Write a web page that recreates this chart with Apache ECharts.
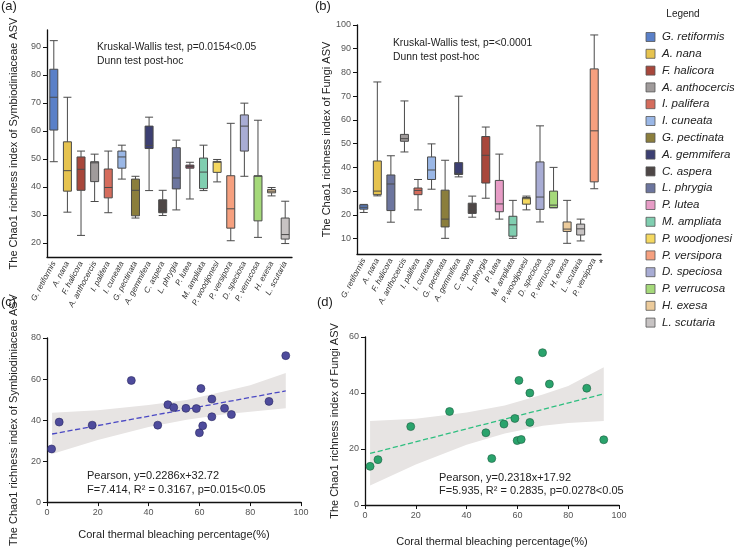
<!DOCTYPE html>
<html lang="en">
<head>
    <meta charset="UTF-8">
    <title>Chao1 richness</title>
    <script src="https://cdn.jsdelivr.net/npm/echarts@6/dist/echarts.min.js"></script>
    <style type="text/css">
        html, body {
            margin: 0;
            padding: 0;
            background: #fff;
        }
        #main {
            width: 734px;
            height: 548px;
        }
    </style>
</head>
<body>
<div id="main"></div>
<script type="text/javascript">
    // species order used in panel (a) and in the legend
    var speciesA = ['G. retiformis', 'A. nana', 'F. halicora', 'A. anthocercis', 'I. palifera', 'I. cuneata',
        'G. pectinata', 'A. gemmifera', 'C. aspera', 'L. phrygia', 'P. lutea', 'M. ampliata',
        'P. woodjonesi', 'P. versipora', 'D. speciosa', 'P. verrucosa', 'H. exesa', 'L. scutaria'];
    var legendColors = ['#5a80c8', '#e6c34f', '#a8473b', '#a09b9b', '#d56c5c', '#9ab7e6',
        '#8b7e3c', '#3c3f72', '#4e4746', '#6c759e', '#e79cc6', '#80ceb0',
        '#f4d860', '#f6a07f', '#a8acd4', '#a5d97a', '#eccb9b', '#c7c3c3'];

    // (a) Symbiodiniaceae, five-number summaries
    var aMin = [49, 31, 22.7, 34.8, 30.8, 42.8, 28.9, 38.7, 29.8, 31.8, 35.7, 38.7, 41.8, 20.8, 43.8, 22, 36.8, 19.8];
    var aQ1 = [60.3, 38.5, 38.8, 41.9, 36.1, 46.7, 29.7, 53.7, 30.8, 39.3, 46.7, 39.4, 45.2, 25.3, 52.8, 27.9, 37.9, 21.4];
    var aMed = [72, 45.8, 46.3, 48.6, 39.8, 50.7, 38.8, 54.8, 32, 43.2, 47.3, 45.3, 48.8, 32.2, 61.7, 43.8, 38.5, 23];
    var aQ3 = [82, 56.1, 50.7, 49, 46.4, 52.8, 42.8, 61.7, 35.4, 54, 47.8, 50.3, 49.1, 44, 65.7, 44, 39.1, 28.9];
    var aMax = [92.2, 72, 52.8, 51.7, 52.8, 54.9, 43.8, 64.9, 38.8, 56.7, 48.8, 54.9, 49.8, 62.7, 69.9, 63.8, 39.8, 34.9];
    var aColors = ['#5a80c8', '#e6c34f', '#a8473b', '#a09b9b', '#d56c5c', '#9ab7e6',
        '#8b7e3c', '#3c3f72', '#4e4746', '#6c759e', '#8d4b5e', '#80ceb0',
        '#f4d860', '#f6a07f', '#a8acd4', '#a5d97a', '#eccb9b', '#c7c3c3'];

    // (b) Fungi
    var speciesB = ['G. retiformis', 'A. nana', 'F. halicora', 'A. anthocercis', 'I. palifera', 'I. cuneata',
        'G. pectinata', 'A. gemmifera', 'C. aspera', 'L. phrygia', 'P. lutea', 'M. ampliata',
        'P. woodjonesi', 'D. speciosa', 'P. verrucosa', 'H. exesa', 'L. scutaria', 'P. versipora'];
    var bMin = [21, 28, 16.9, 46.5, 22.1, 30.8, 10.1, 36, 19, 27, 18.2, 10.1, 22.1, 17, 23, 8, 9, 31];
    var bQ1 = [22.4, 28.5, 21.8, 51, 28.5, 34.9, 14.9, 37, 20.6, 33.4, 21.3, 11, 24.5, 22.3, 23, 13, 11.5, 33.9];
    var bMed = [23.2, 30, 33, 52.1, 30.3, 38.9, 18.2, 37.5, 22.1, 45.1, 24.6, 15.8, 26.8, 27.5, 24.1, 14, 14.1, 55.4];
    var bQ3 = [24.2, 42.7, 36.8, 53.9, 31.3, 44.4, 30.4, 42, 24.9, 53, 34.5, 19.4, 27.3, 42.3, 30, 17, 16.1, 81.5];
    var bMax = [24.4, 76, 44.9, 68, 34.9, 49.9, 43, 70, 27.9, 57, 45.6, 26.1, 27.9, 57.5, 40, 26.1, 18.2, 95.8];
    var bColors = ['#5a80c8', '#e6c34f', '#6c759e', '#a09b9b', '#d56c5c', '#9ab7e6',
        '#8b7e3c', '#3c3f72', '#4e4746', '#a8473b', '#e79cc6', '#80ceb0',
        '#f4d860', '#a8acd4', '#a5d97a', '#eccb9b', '#c7c3c3', '#f6a07f'];

    // (c) bleaching vs Symbiodiniaceae richness
    var cX = [1.8, 4.8, 17.8, 33.2, 43.6, 47.6, 49.9, 54.7, 58.8, 60, 60.6, 61.3, 64.9, 64.9, 69.9, 72.6, 87.4, 94];
    var cY = [25.9, 39, 37.5, 59.3, 37.5, 47.5, 46.1, 45.7, 45.6, 33.8, 55.4, 37.2, 50.2, 41.6, 45.7, 42.7, 49.1, 71.4];
    var cFitX = [2, 94];
    var cFitY = [33.2, 54.2];
    var cBandX = [2, 20, 40, 55, 70, 80, 94];
    var cBandUp = [43.5, 44.8, 47.3, 49.8, 54, 57, 62.9];
    var cBandLo = [23.5, 30.3, 36.6, 40.2, 42.8, 44, 45.7];

    // (d) bleaching vs Fungi richness
    var dX = [2, 5.1, 18, 33.3, 47.6, 49.9, 54.7, 59, 59.9, 60.6, 61.5, 64.9, 64.9, 69.9, 72.6, 87.3, 94];
    var dY = [13.8, 16.2, 28, 33.4, 25.8, 16.6, 28.9, 30.9, 23, 44.5, 23.4, 40, 29.5, 54.4, 43.2, 41.7, 23.3];
    var dFitX = [2, 94];
    var dFitY = [18.4, 39.7];
    var dBandX = [2, 20, 40, 55, 70, 80, 94];
    var dBandUp = [30, 30.8, 33, 35.5, 39.5, 42.5, 49.2];
    var dBandLo = [7, 14.5, 21.5, 25.5, 28.3, 29.3, 30];

    var FONT = 'Liberation Sans, Arial, sans-serif';

    function boxData(mins, q1s, meds, q3s, maxs, colors) {
        var out = [];
        for (var i = 0; i < mins.length; i++) {
            out.push({
                value: [mins[i], q1s[i], meds[i], q3s[i], maxs[i]],
                itemStyle: {color: colors[i]}
            });
        }
        return out;
    }

    function pairs(xs, ys) {
        var out = [];
        for (var i = 0; i < xs.length; i++) out.push([xs[i], ys[i]]);
        return out;
    }

    // confidence band drawn as one polygon through the axis scales
    function bandSeries(idx, bx, up, lo) {
        return {
            type: 'custom',
            xAxisIndex: idx,
            yAxisIndex: idx,
            z: 1,
            silent: true,
            data: pairs(bx, up),
            renderItem: function (params, api) {
                if (params.dataIndex !== 0) return null;
                var pts = [];
                for (var i = 0; i < bx.length; i++) pts.push(api.coord([bx[i], up[i]]));
                for (var j = bx.length - 1; j >= 0; j--) pts.push(api.coord([bx[j], lo[j]]));
                return {
                    type: 'polygon',
                    shape: {points: pts},
                    style: {fill: '#e7e4e3', stroke: null}
                };
            }
        };
    }

    function catAxis(idx, data) {
        return {
            type: 'category',
            gridIndex: idx,
            data: data,
            axisLine: {lineStyle: {color: '#111', width: 1.3}},
            axisTick: {alignWithLabel: true, length: 4, lineStyle: {color: '#111'}},
            axisLabel: {
                interval: 0, rotate: 62, fontSize: 8, fontStyle: 'italic',
                color: '#333', margin: 5, fontFamily: FONT
            }
        };
    }

    function valAxis(idx, opts) {
        var ax = {
            type: 'value',
            gridIndex: idx,
            splitLine: {show: false},
            axisLine: {show: true, lineStyle: {color: '#111', width: 1.3}},
            axisTick: {show: true, length: 4, lineStyle: {color: '#111'}},
            axisLabel: {fontSize: 9, color: '#555', fontFamily: FONT, margin: 6},
            nameLocation: 'middle',
            nameTextStyle: {fontSize: 11, color: '#222', fontFamily: FONT}
        };
        for (var k in opts) ax[k] = opts[k];
        return ax;
    }

    var graphics = [];
    function addText(x, y, text, size, extra) {
        var st = {text: text, x: x, y: y, fill: '#222', font: size + 'px ' + FONT};
        if (extra) for (var k in extra) st[k] = extra[k];
        graphics.push({type: 'text', style: st, z: 100});
    }

    addText(1, 0, '(a)', 13);
    addText(315, 0, '(b)', 13);
    addText(1, 296, '(c)', 13);
    addText(317, 296, '(d)', 13);
    addText(97, 42, 'Kruskal-Wallis test, p=0.0154<0.05', 10.3);
    addText(97, 56, 'Dunn test post-hoc', 10.3);
    addText(393, 38, 'Kruskal-Wallis test, p=<0.0001', 10.3);
    addText(393, 52, 'Dunn test post-hoc', 10.3);
    addText(87, 470, 'Pearson, y=0.2286x+32.72', 11);
    addText(87, 484, 'F=7.414, R² = 0.3167, p=0.015<0.05', 11);
    addText(439, 472, 'Pearson, y=0.2318x+17.92', 11);
    addText(439, 485, 'F=5.935, R² = 0.2835, p=0.0278<0.05', 11);
    addText(599, 259, '*', 10);
    addText(683, 14, 'Legend', 10, {align: 'center', verticalAlign: 'middle'});

    // legend swatches
    for (var i = 0; i < speciesA.length; i++) {
        var ry = 37 + i * 16.8;
        graphics.push({
            type: 'rect',
            shape: {x: 646, y: ry - 4.5, width: 9, height: 9},
            style: {fill: legendColors[i], stroke: '#555', lineWidth: 0.8}
        });
        addText(662, ry, speciesA[i], 11.5, {verticalAlign: 'middle', font: 'italic 11.5px ' + FONT});
    }

    var myChart = echarts.init(document.getElementById('main'), null, {renderer: 'canvas'});
    var option = {
        animation: false,
        backgroundColor: '#fff',
        textStyle: {fontFamily: FONT},
        grid: [
            {left: 47, top: 30, width: 245, height: 227},
            {left: 357, top: 25, width: 244, height: 229},
            {left: 47, top: 338, width: 254, height: 169},
            {left: 365, top: 337, width: 254, height: 169}
        ],
        xAxis: [
            catAxis(0, speciesA),
            catAxis(1, speciesB),
            valAxis(2, {min: 0, max: 100, interval: 20, name: 'Coral thermal bleaching percentage(%)', nameGap: 27}),
            valAxis(3, {min: 0, max: 100, interval: 20, name: 'Coral thermal bleaching percentage(%)', nameGap: 31})
        ],
        yAxis: [
            valAxis(0, {
                min: 15, max: 96, splitNumber: 8, minInterval: 10, maxInterval: 10,
                name: 'The Chao1 richness index of Symbiodiniaceae ASV', nameGap: 28,
                axisLabel: {fontSize: 9, color: '#555', fontFamily: FONT, margin: 6, showMinLabel: false, showMaxLabel: false}
            }),
            valAxis(1, {
                min: 3.5, max: 100, splitNumber: 10, minInterval: 10, maxInterval: 10,
                name: 'The Chao1 richness index of Fungi ASV', nameGap: 22,
                axisLabel: {fontSize: 9, color: '#555', fontFamily: FONT, margin: 6, showMinLabel: false}
            }),
            valAxis(2, {min: 0, max: 80, interval: 20, name: 'The Chao1 richness index of Symbiodiniaceae ASV', nameGap: 28}),
            valAxis(3, {min: 0, max: 60, interval: 20, name: 'The Chao1 richness index of Fungi ASV', nameGap: 25})
        ],
        graphic: graphics,
        series: [
            {
                type: 'boxplot',
                xAxisIndex: 0,
                yAxisIndex: 0,
                boxWidth: [8, 8],
                itemStyle: {borderColor: '#4a4a4a', borderWidth: 1},
                data: boxData(aMin, aQ1, aMed, aQ3, aMax, aColors)
            },
            {
                type: 'boxplot',
                xAxisIndex: 1,
                yAxisIndex: 1,
                boxWidth: [8, 8],
                itemStyle: {borderColor: '#4a4a4a', borderWidth: 1},
                data: boxData(bMin, bQ1, bMed, bQ3, bMax, bColors)
            },
            bandSeries(2, cBandX, cBandUp, cBandLo),
            {
                type: 'line',
                xAxisIndex: 2,
                yAxisIndex: 2,
                z: 2,
                symbol: 'none',
                lineStyle: {color: '#4a48c4', type: 'dashed', width: 1.3},
                data: pairs(cFitX, cFitY)
            },
            {
                type: 'scatter',
                xAxisIndex: 2,
                yAxisIndex: 2,
                z: 3,
                symbolSize: 8,
                itemStyle: {color: '#4e4b9c', borderColor: '#2a2860', borderWidth: 0.6, opacity: 1},
                data: pairs(cX, cY)
            },
            bandSeries(3, dBandX, dBandUp, dBandLo),
            {
                type: 'line',
                xAxisIndex: 3,
                yAxisIndex: 3,
                z: 2,
                symbol: 'none',
                lineStyle: {color: '#2fbf80', type: 'dashed', width: 1.3},
                data: pairs(dFitX, dFitY)
            },
            {
                type: 'scatter',
                xAxisIndex: 3,
                yAxisIndex: 3,
                z: 3,
                symbolSize: 8,
                itemStyle: {color: '#2aa36c', borderColor: '#1c5e40', borderWidth: 0.6, opacity: 1},
                data: pairs(dX, dY)
            }
        ]
    };
    myChart.setOption(option);
</script>
</body>
</html>
